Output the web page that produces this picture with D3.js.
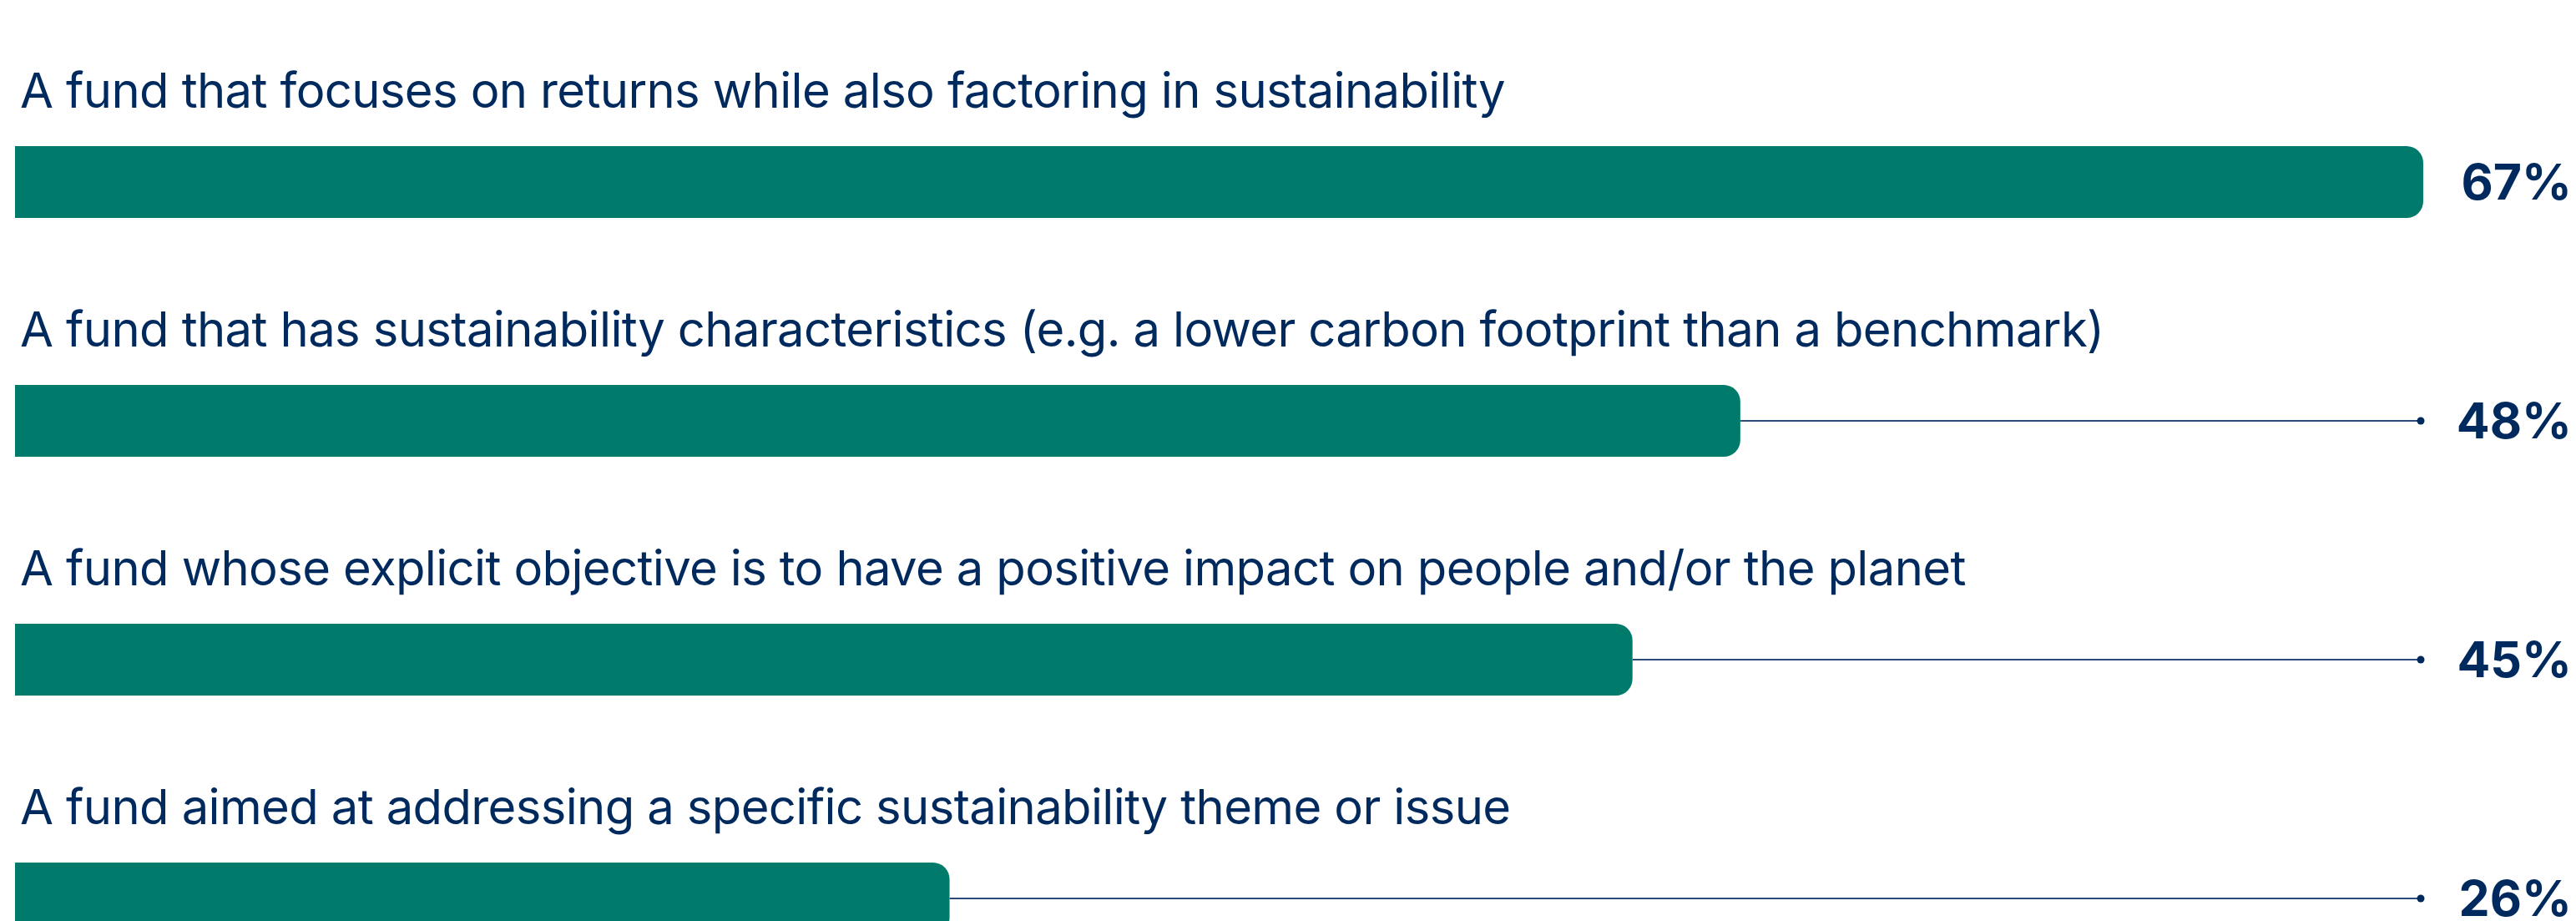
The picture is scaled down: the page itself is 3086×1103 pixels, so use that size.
<!DOCTYPE html>
<html>
<head>
<meta charset="utf-8">
<script src="https://cdn.jsdelivr.net/npm/d3@7"></script>
<style>
  body { margin: 0; background: #ffffff; }
  svg { display: block; }
</style>
</head>
<body>
<svg width="3086" height="1103"></svg>
<script>
// data
var categories = [
  "A fund that focuses on returns while also factoring in sustainability",
  "A fund that has sustainability characteristics (e.g. a lower carbon footprint than a benchmark)",
  "A fund whose explicit objective is to have a positive impact on people and/or the planet",
  "A fund aimed at addressing a specific sustainability theme or issue"
];
var values = [67, 48, 45, 26];
var valueLabels = ["67%", "48%", "45%", "26%"];

var barColor = "#007a6b",
    navy = "#002a5e",
    lineColor = "#2c4a7c";

var svg = d3.select("svg"),
    width = +svg.attr("width"),
    height = +svg.attr("height");

var rows = categories.map(function(c, i) {
  return { cat: c, value: values[i], label: valueLabels[i] };
});

var x = d3.scaleLinear()
    .domain([0, d3.max(values)])
    .range([18, 2903]);

var y = d3.scaleBand()
    .domain(categories)
    .range([175, 1119])
    .paddingInner(0.6993)
    .paddingOuter(0);

var lineEnd = 2900,
    radius = 20;

// bar with only the right side rounded
function barPath(d) {
  var x0 = x(0), x1 = x(d.value), y0 = y(d.cat), h = y.bandwidth(), r = radius;
  return "M" + x0 + "," + y0 +
    "H" + (x1 - r) +
    "A" + r + "," + r + " 0 0 1 " + x1 + "," + (y0 + r) +
    "V" + (y0 + h - r) +
    "A" + r + "," + r + " 0 0 1 " + (x1 - r) + "," + (y0 + h) +
    "H" + x0 + "Z";
}

var row = svg.selectAll(".row")
    .data(rows)
    .enter().append("g")
    .attr("class", "row");

// category labels
row.append("text")
    .attr("x", 24)
    .attr("y", function(d) { return y(d.cat) - 46; })
    .attr("fill", navy)
    .style("font-family", "Inter, 'Noto Sans', sans-serif")
    .style("font-size", "58px")
    .style("letter-spacing", "-0.65px")
    .style("font-weight", 400)
    .text(function(d) { return d.cat; });

// leader lines from bar end to the value
row.filter(function(d) { return x(d.value) < lineEnd - 10; })
    .append("line")
    .attr("x1", function(d) { return x(d.value); })
    .attr("x2", lineEnd)
    .attr("y1", function(d) { return y(d.cat) + y.bandwidth() / 2; })
    .attr("y2", function(d) { return y(d.cat) + y.bandwidth() / 2; })
    .attr("stroke", lineColor)
    .attr("stroke-width", 2);

row.filter(function(d) { return x(d.value) < lineEnd - 10; })
    .append("circle")
    .attr("cx", lineEnd)
    .attr("cy", function(d) { return y(d.cat) + y.bandwidth() / 2; })
    .attr("r", 4.5)
    .attr("fill", navy);

// bars
row.append("path")
    .attr("d", barPath)
    .attr("fill", barColor);

// value labels
row.append("text")
    .attr("x", 3081)
    .attr("y", function(d) { return y(d.cat) + y.bandwidth() / 2; })
    .attr("dy", "0.36em")
    .attr("text-anchor", "end")
    .attr("fill", navy)
    .style("font-family", "Inter, 'Noto Sans', sans-serif")
    .style("font-size", "59px")
    .style("font-weight", 700)
    .text(function(d) { return d.label; });
</script>
</body>
</html>
